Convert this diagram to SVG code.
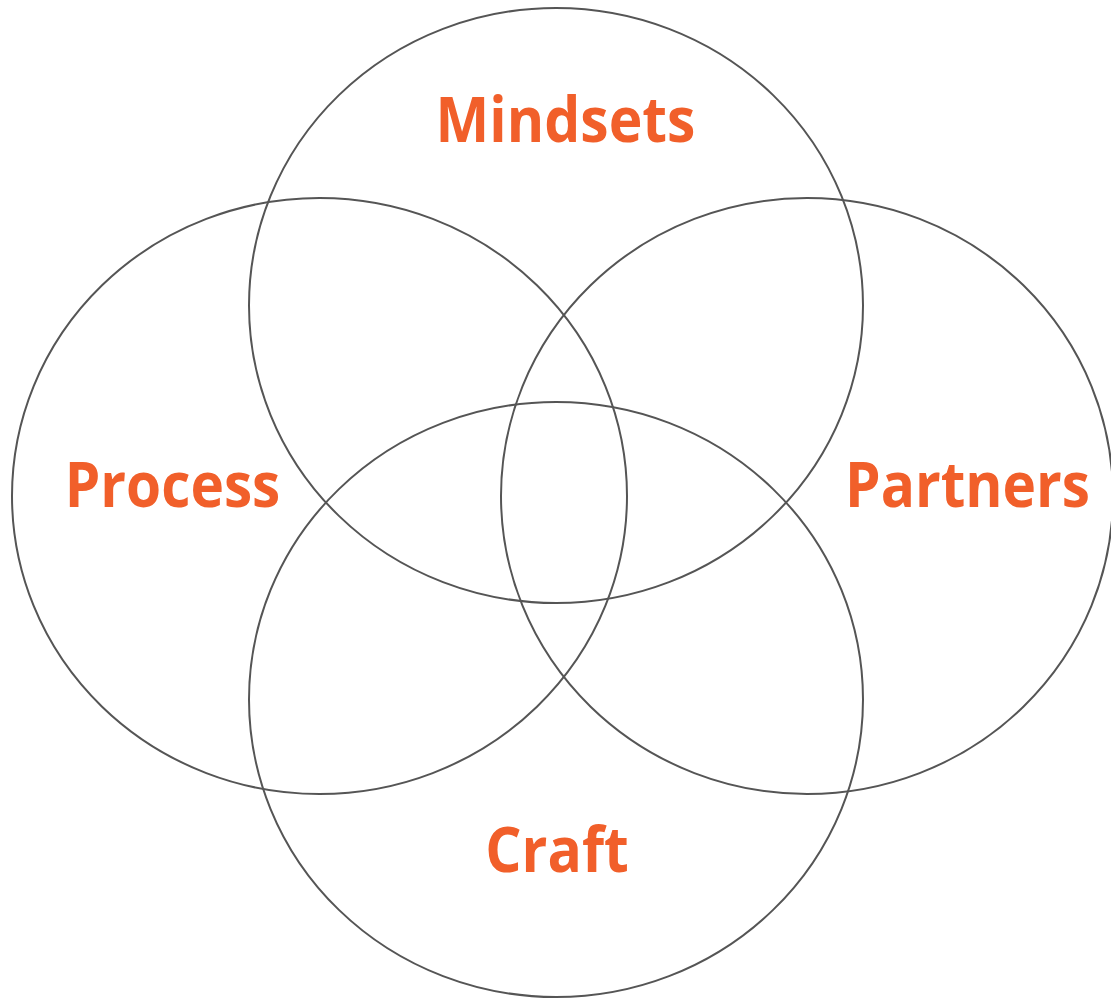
<svg xmlns="http://www.w3.org/2000/svg" width="1111" height="1000" viewBox="0 0 1111 1000">
  <style>
    .ring { fill: none; stroke: #555555; stroke-width: 2; }
    .label { font-family: "Open Sans", "Noto Sans", "Liberation Sans", sans-serif; font-weight: 700; font-size: 62px; fill: #F15F2A; text-anchor: middle; }
  </style>
  <rect width="1111" height="1000" fill="#FFFFFF"/>
  <g id="mindsets">
    <ellipse class="ring" cx="556" cy="305.5" rx="307" ry="297.5"/>
    <text class="label" transform="translate(565.5 142) scale(0.92 1)">Mindsets</text>
  </g>
  <g id="process">
    <ellipse class="ring" cx="319.5" cy="496" rx="307.5" ry="298"/>
    <text class="label" transform="translate(172.5 507) scale(0.915 1)">Process</text>
  </g>
  <g id="partners">
    <ellipse class="ring" cx="807" cy="496" rx="306" ry="298"/>
    <text class="label" transform="translate(967.5 507) scale(0.915 1)">Partners</text>
  </g>
  <g id="craft">
    <ellipse class="ring" cx="556" cy="699.5" rx="307" ry="297.5"/>
    <text class="label" transform="translate(557 872) scale(0.92 1)">Craft</text>
  </g>
  <g id="connectors"/>
</svg>
